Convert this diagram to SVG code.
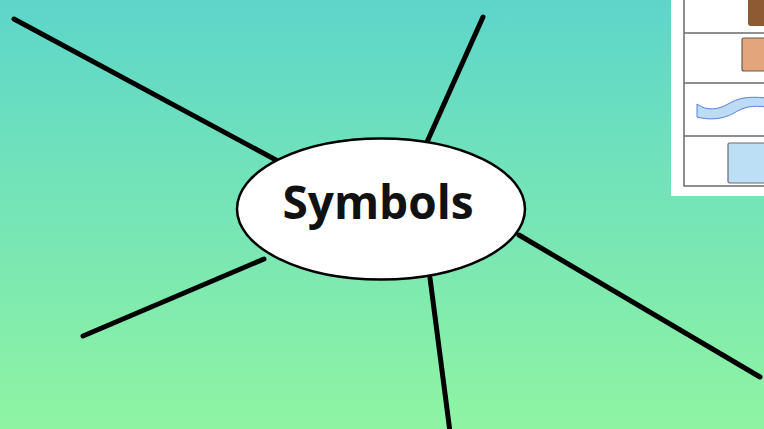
<svg xmlns="http://www.w3.org/2000/svg" width="764" height="429" viewBox="0 0 764 429">
<defs>
<linearGradient id="bg" x1="0" y1="0" x2="0" y2="1">
<stop offset="0" stop-color="#5dd6ca"/>
<stop offset="1" stop-color="#8ff4a2"/>
</linearGradient>
<style>
.spoke{stroke:#000;stroke-width:5;stroke-linecap:round;fill:none}
.grid{stroke:#6b6b6b;stroke-width:1.5;fill:none}
</style>
</defs>
<rect width="764" height="429" fill="url(#bg)"/>
<g id="connectors">
<line class="spoke" x1="14" y1="19" x2="276" y2="160"/>
<line class="spoke" x1="483" y1="17" x2="427" y2="142"/>
<line class="spoke" x1="264" y1="259" x2="83" y2="336"/>
<line class="spoke" x1="430" y1="278" x2="450" y2="432"/>
<line class="spoke" x1="519" y1="235" x2="760" y2="377"/>
</g>
<g id="center">
<ellipse cx="381" cy="209" rx="144" ry="70.5" fill="#fff" stroke="#000" stroke-width="2.5"/>
<text x="378" y="219" text-anchor="middle" font-family="Open Sans, sans-serif" font-weight="bold" font-size="46" fill="#111">Symbols</text>
</g>
<g id="key">
<rect x="671" y="-2" width="95" height="198" fill="#fff"/>
<path class="grid" d="M684,0 V186 H766 M684,33 H766 M684,83 H766 M684,136 H766"/>
<rect x="748" y="-6" width="24" height="32" rx="3" fill="#8d5a33"/>
<rect x="742" y="38" width="26" height="33" rx="2" fill="#e3a67a" stroke="#6a5a50" stroke-width="1.2"/>
<path d="M697,104 C706,111 718,110 728,104 C738,98 748,96 766,98 L766,107 C752,105 744,107 734,113 C722,120 708,120 697,117 Z" fill="#bcdcf6" stroke="#5a80d8" stroke-width="1"/>
<rect x="728" y="143" width="40" height="40" rx="1.5" fill="#bddff6" stroke="#6a6a6a" stroke-width="1.2"/>
</g>
</svg>
